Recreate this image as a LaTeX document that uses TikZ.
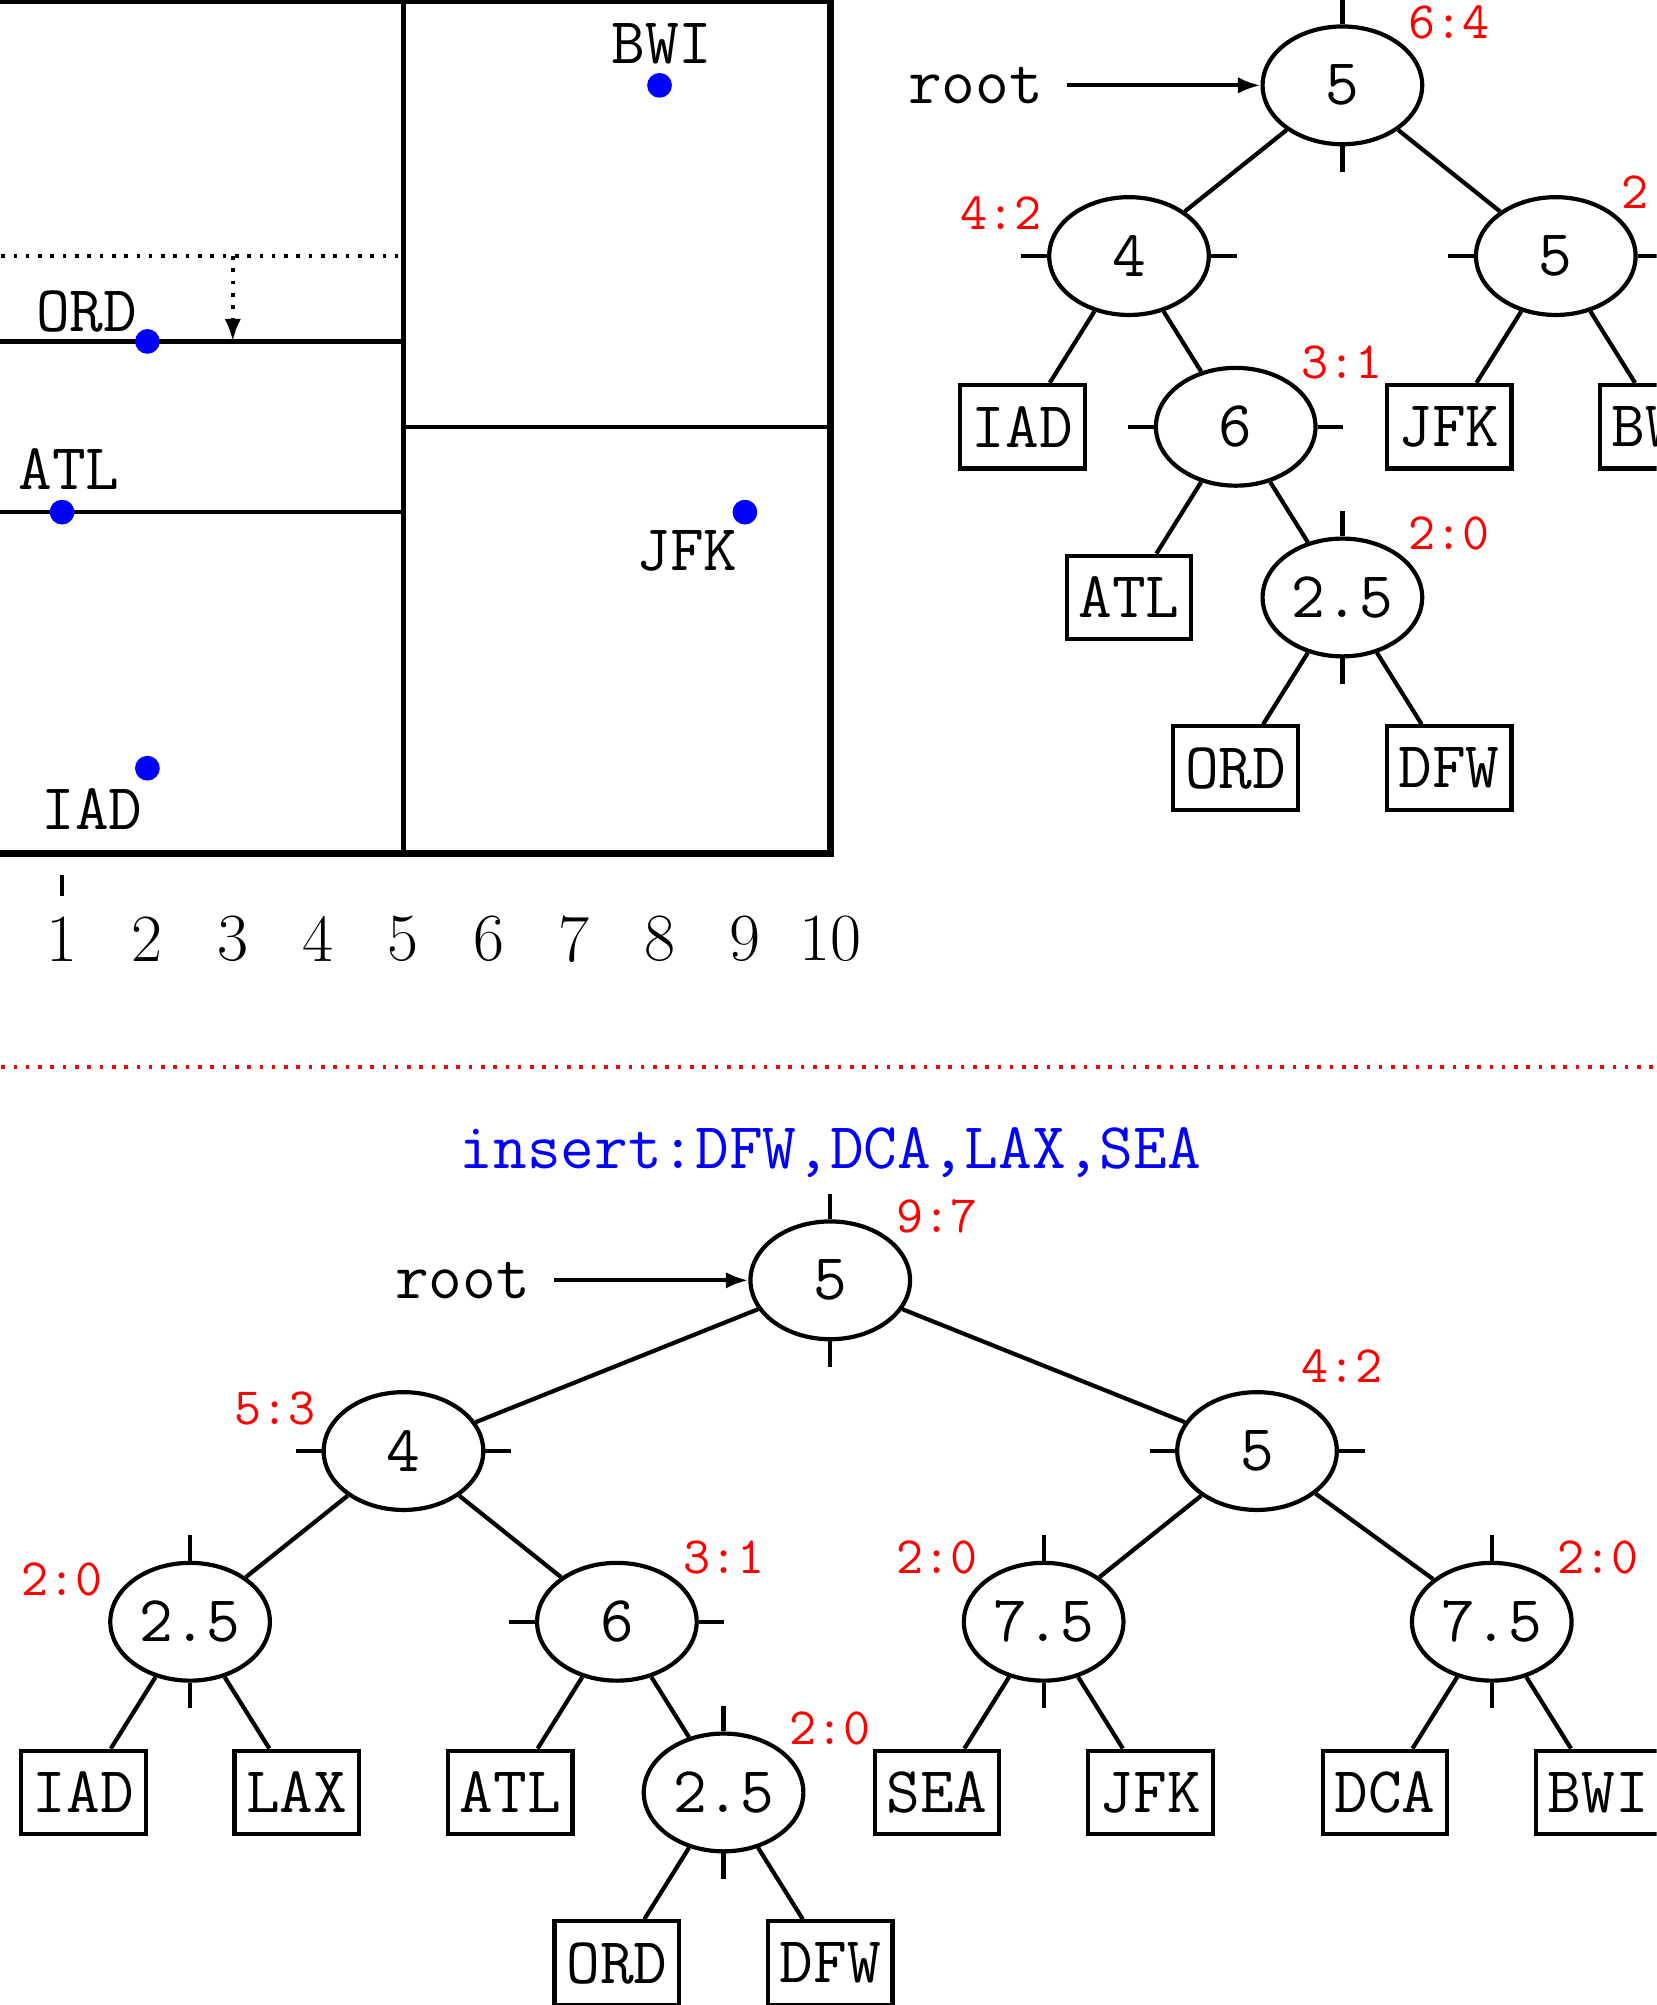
\documentclass[tikz,border=0pt]{standalone}
\usepackage{fontspec}
\usetikzlibrary{shapes.geometric,arrows.meta}

\tikzset{
  split/.style={ellipse, draw, inner sep=0pt, minimum width=1.87cm, minimum height=1.38cm,
    font=\fontsize{21.8}{26}\selectfont\ttfamily},
  leaf/.style={rectangle, draw, inner sep=0pt, minimum width=1.46cm, minimum height=0.98cm,
    font=\fontsize{21.8}{26}\selectfont\ttfamily},
  ttlbl/.style={inner sep=0.26cm, font=\fontsize{21.8}{26}\selectfont\ttfamily},
  cnt/.style={red, inner sep=0pt, font=\fontsize{17.5}{21}\selectfont\ttfamily},
  axnum/.style={inner sep=0pt, font=\fontsize{22.5}{27}\selectfont},
  dots/.style={dash pattern=on 1.2pt off 2.9pt},
  tip/.style={-{Latex[length=7.5pt,width=5.5pt]}}
}

\begin{document}
\begin{tikzpicture}[line width=1.4pt]
  \useasboundingbox (0.273,-13.49) rectangle (19.68,10.0);
  \clip (0.273,-13.49) rectangle (19.68,10.0);

  % the plane and its cuts
  \draw[line width=2.5pt] (0,0) rectangle (10,10);
  \draw (5,0) -- (5,10);
  \draw (5,5) -- (10,5);
  \draw (0,6) -- (5,6);
  \draw (0,4) -- (5,4);
  \draw[dots] (0,7) -- (4.95,7);
  \draw[dots, tip] (3,7) -- (3,6);

  \coordinate (pBWI) at (8,9);
  \coordinate (pORD) at (2,6);
  \coordinate (pATL) at (1,4);
  \coordinate (pJFK) at (9,4);
  \coordinate (pIAD) at (2,1);
  \foreach \p in {pBWI,pORD,pATL,pJFK,pIAD} \fill[blue] (\p) circle (0.145);
  \node[ttlbl] (lBWI) at (8.03,9.49) {BWI};
  \node[ttlbl] (lORD) at (1.29,6.35) {ORD};
  \node[ttlbl] (lATL) at (1.08,4.50) {ATL};
  \node[ttlbl] (lJFK) at (8.32,3.55) {JFK};
  \node[ttlbl] (lIAD) at (1.35,0.52) {IAD};

  % x axis
  \draw (1,-0.25) -- (1,-0.5);
  \foreach \x in {1,...,10} \node[axnum] (ax\x) at (\x,-1) {\x};

  % first tree
  \node[ttlbl] (ta-root) at (11.7,9) {root};
  \node[split] (ta) at (16,9) {5};
  \node[split] (ta4) at (13.5,7) {4};
  \node[split] (ta5) at (18.5,7) {5};
  \node[leaf] (taIAD) at (12.25,5) {IAD};
  \node[split] (ta6) at (14.75,5) {6};
  \node[leaf] (taJFK) at (17.25,5) {JFK};
  \node[leaf] (taBWI) at (19.75,5) {BWI};
  \node[leaf] (taATL) at (13.5,3) {ATL};
  \node[split] (ta25) at (16,3) {2.5};
  \node[leaf] (taORD) at (14.75,1) {ORD};
  \node[leaf] (taDFW) at (17.25,1) {DFW};
  \draw[tip] (ta-root.east) -- (ta.west);
  \draw (ta) -- (ta4) (ta) -- (ta5);
  \draw (ta4) -- (taIAD) (ta4) -- (ta6);
  \draw (ta5) -- (taJFK) (ta5) -- (taBWI);
  \draw (ta6) -- (taATL) (ta6) -- (ta25);
  \draw (ta25) -- (taORD) (ta25) -- (taDFW);
  \foreach \n in {ta,ta25} \draw (\n.north) -- ++(0,0.3) (\n.south) -- ++(0,-0.3);
  \foreach \n in {ta4,ta5,ta6} \draw (\n.west) -- ++(-0.3,0) (\n.east) -- ++(0.3,0);
  \node[cnt] (ca) at (17.25,9.74) {6:4};
  \node[cnt] (ca4) at (12.0,7.5) {4:2};
  \node[cnt] (ca5) at (19.75,7.74) {2:0};
  \node[cnt] (ca6) at (16.0,5.75) {3:1};
  \node[cnt] (ca25) at (17.25,3.75) {2:0};

  % separator
  \draw[red, dots] (0,-2.5) -- (20,-2.5);
  \node[blue, inner sep=0pt, font=\fontsize{21.8}{26}\selectfont\ttfamily] (ins) at (10,-3.5) {insert:DFW,DCA,LAX,SEA};

  % second tree
  \node[ttlbl] (tb-root) at (5.69,-5) {root};
  \node[split] (tb) at (10,-5) {5};
  \node[split] (tb4) at (5,-7) {4};
  \node[split] (tb5) at (15,-7) {5};
  \node[split] (tb25) at (2.5,-9) {2.5};
  \node[split] (tb6) at (7.5,-9) {6};
  \node[split] (tb75a) at (12.5,-9) {7.5};
  \node[split] (tb75b) at (17.75,-9) {7.5};
  \node[leaf] (tbIAD) at (1.25,-11) {IAD};
  \node[leaf] (tbLAX) at (3.75,-11) {LAX};
  \node[leaf] (tbATL) at (6.25,-11) {ATL};
  \node[split] (tb25b) at (8.75,-11) {2.5};
  \node[leaf] (tbSEA) at (11.25,-11) {SEA};
  \node[leaf] (tbJFK) at (13.75,-11) {JFK};
  \node[leaf] (tbDCA) at (16.5,-11) {DCA};
  \node[leaf] (tbBWI) at (19,-11) {BWI};
  \node[leaf] (tbORD) at (7.5,-13) {ORD};
  \node[leaf] (tbDFW) at (10,-13) {DFW};
  \draw[tip] (tb-root.east) -- (tb.west);
  \draw (tb) -- (tb4) (tb) -- (tb5);
  \draw (tb4) -- (tb25) (tb4) -- (tb6);
  \draw (tb5) -- (tb75a) (tb5) -- (tb75b);
  \draw (tb25) -- (tbIAD) (tb25) -- (tbLAX);
  \draw (tb6) -- (tbATL) (tb6) -- (tb25b);
  \draw (tb25b) -- (tbORD) (tb25b) -- (tbDFW);
  \draw (tb75a) -- (tbSEA) (tb75a) -- (tbJFK);
  \draw (tb75b) -- (tbDCA) (tb75b) -- (tbBWI);
  \foreach \n in {tb,tb25,tb75a,tb75b,tb25b} \draw (\n.north) -- ++(0,0.3) (\n.south) -- ++(0,-0.3);
  \foreach \n in {tb4,tb5,tb6} \draw (\n.west) -- ++(-0.3,0) (\n.east) -- ++(0.3,0);
  \node[cnt] (cb) at (11.25,-4.25) {9:7};
  \node[cnt] (cb4) at (3.5,-6.5) {5:3};
  \node[cnt] (cb5) at (16,-6) {4:2};
  \node[cnt] (cb25) at (1.0,-8.5) {2:0};
  \node[cnt] (cb6) at (8.75,-8.25) {3:1};
  \node[cnt] (cb75a) at (11.25,-8.25) {2:0};
  \node[cnt] (cb75b) at (19,-8.25) {2:0};
  \node[cnt] (cb25b) at (10,-10.25) {2:0};
\end{tikzpicture}
\end{document}
